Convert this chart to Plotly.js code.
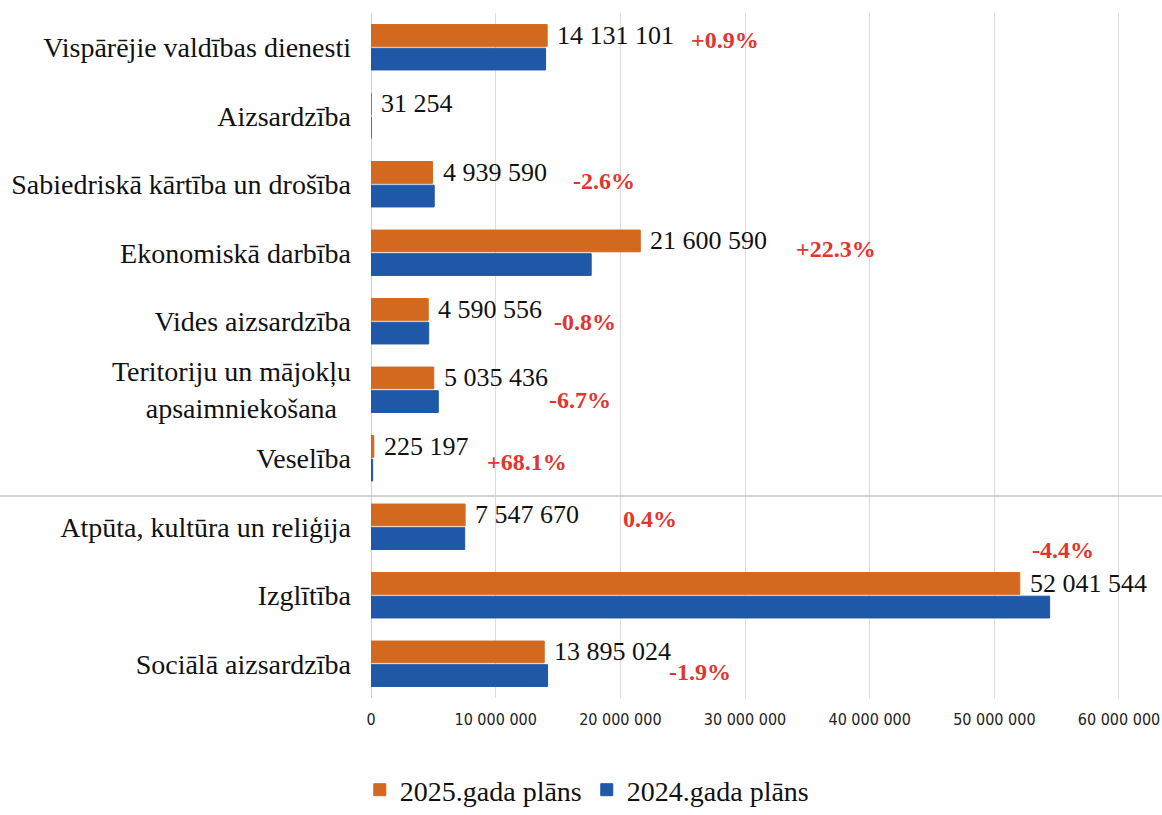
<!DOCTYPE html>
<html>
<head>
<meta charset="utf-8">
<script src="https://cdn.plot.ly/plotly-3.0.1.min.js"></script>
<style>html,body{margin:0;padding:0;background:#fff;}#chart{width:1162px;height:815px;}</style>
</head>
<body>
<div id="chart"></div>
<script>
// ---- data ----
const categories = [
  "Vispārējie valdības dienesti",
  "Aizsardzība",
  "Sabiedriskā kārtība un drošība",
  "Ekonomiskā darbība",
  "Vides aizsardzība",
  "Teritoriju un mājokļu<br>apsaimniekošana\u00a0\u00a0",
  "Veselība",
  "Atpūta, kultūra un reliģija",
  "Izglītība",
  "Sociālā aizsardzība"
];
const plan2025 = [14131101, 31254, 4939590, 21600590, 4590556, 5035436, 225197, 7547670, 52041544, 13895024];
const plan2024 = [14005000, 0, 5071000, 17662000, 4628000, 5397000, 134000, 7517000, 54437000, 14164000];
const valueLabels = ["14 131 101", "31 254", "4 939 590", "21 600 590", "4 590 556", "5 035 436", "225 197", "7 547 670", "52 041 544", "13 895 024"];
const changeLabels = ["+0.9%", "", "-2.6%", "+22.3%", "-0.8%", "-6.7%", "+68.1%", "0.4%", "-4.4%", "-1.9%"];
const seriesNames = ["2025.gada plāns", "2024.gada plāns"];
const xTickVals = [0, 10000000, 20000000, 30000000, 40000000, 50000000, 60000000];

// ---- layout helpers (pixel offsets of the change labels) ----
const changeDx = [142, 0, 138, 154, 124, 113, 111, 156, 10, 123];
const changeDy = [7, 0, 3, 4, -1, -10, -4, 8, 45, -8];

const orange = "#D2691F";
const blue = "#1F58A6";

const traces = [
  {type: "bar", orientation: "h", name: seriesNames[0], y: categories, x: plan2025,
   marker: {color: orange, line: {color: orange, width: 1}}, hoverinfo: "x+name"},
  {type: "bar", orientation: "h", name: seriesNames[1], y: categories, x: plan2024,
   marker: {color: blue, line: {color: blue, width: 1}}, hoverinfo: "x+name"}
];

const annotations = [];
categories.forEach((c, i) => {
  annotations.push({
    x: plan2025[i], y: c, xref: "x", yref: "y", text: valueLabels[i],
    showarrow: false, xanchor: "left", yanchor: "middle", xshift: 8, yshift: 12,
    font: {family: "Liberation Serif, Times New Roman, serif", size: 26, color: "#111"}
  });
  if (changeLabels[i]) {
    annotations.push({
      x: plan2025[i], y: c, xref: "x", yref: "y", text: "<b>" + changeLabels[i] + "</b>",
      showarrow: false, xanchor: "left", yanchor: "middle", xshift: changeDx[i], yshift: changeDy[i],
      font: {family: "Liberation Serif, Times New Roman, serif", size: 24, color: "#E3342F"}
    });
  }
});

const layout = {
  width: 1162, height: 815,
  margin: {l: 371, r: 0, t: 13, b: 117, autoexpand: false},
  paper_bgcolor: "#fff", plot_bgcolor: "#fff",
  barmode: "group", bargap: 0.31, bargroupgap: 0.08,
  separators: ". ",
  showlegend: true,
  legend: {orientation: "h", xref: "container", yref: "container", x: 0.505, xanchor: "center",
           y: -0.022, yanchor: "bottom", traceorder: "normal",
           font: {family: "Liberation Serif, Times New Roman, serif", size: 28, color: "#111"}},
  xaxis: {range: [0, 63450000], tickvals: xTickVals, tickformat: ",d", tickangle: 0,
          ticklabeloverflow: "allow",
          showgrid: true, gridcolor: "#dcdcdc", gridwidth: 1, zeroline: true, zerolinecolor: "#d0d0d0",
          showline: false, ticks: "", ticklabelstandoff: 10,
          tickfont: {family: "DejaVu Sans Condensed, Liberation Sans Narrow, sans-serif", size: 16, color: "#222"}},
  yaxis: {autorange: "reversed", type: "category", showgrid: false, zeroline: false, showline: false,
          ticks: "", ticklabelstandoff: 19,
          tickfont: {family: "Liberation Serif, Times New Roman, serif", size: 28, color: "#111"}},
  shapes: [{type: "line", xref: "paper", yref: "paper", x0: -0.47, x1: 1, y0: 0.295, y1: 0.295,
            line: {color: "#c4c4c4", width: 1.5}}],
  annotations: annotations
};

Plotly.newPlot("chart", traces, layout, {displayModeBar: false, staticPlot: true});
</script>
</body>
</html>
